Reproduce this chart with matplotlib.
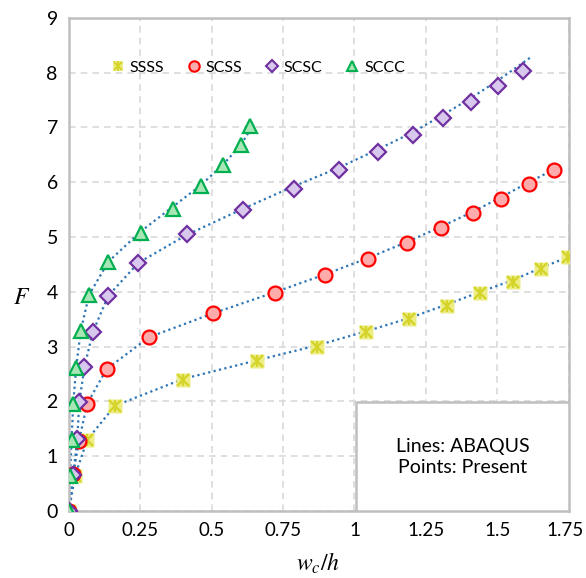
import matplotlib
matplotlib.use("Agg")
import matplotlib.pyplot as plt
from matplotlib.patches import Rectangle
from matplotlib.transforms import ScaledTranslation

plt.rcParams['font.family'] = ['Lato', 'DejaVu Sans']
plt.rcParams['mathtext.fontset'] = 'stix'

# ---- Data: points (Present) ----
ssss_x = [0, 0.021, 0.064, 0.161, 0.40, 0.658, 0.868, 1.041, 1.192, 1.324, 1.441, 1.554, 1.655, 1.747]
ssss_y = [0, 0.64, 1.30, 1.92, 2.39, 2.73, 3.00, 3.26, 3.50, 3.75, 3.98, 4.18, 4.42, 4.63]

scss_x = [0, 0.015, 0.035, 0.064, 0.132, 0.28, 0.506, 0.72, 0.898, 1.049, 1.184, 1.304, 1.414, 1.515, 1.61, 1.698]
scss_y = [0, 0.67, 1.28, 1.96, 2.59, 3.17, 3.61, 3.98, 4.30, 4.60, 4.89, 5.17, 5.44, 5.70, 5.97, 6.22]

scsc_x = [0, 0.015, 0.029, 0.036, 0.054, 0.083, 0.138, 0.243, 0.413, 0.611, 0.789, 0.947, 1.082, 1.204, 1.31, 1.409, 1.503, 1.589]
scsc_y = [0, 0.66, 1.31, 1.98, 2.62, 3.26, 3.93, 4.53, 5.06, 5.49, 5.87, 6.22, 6.55, 6.86, 7.18, 7.46, 7.75, 8.03]

sccc_x = [0, 0.004, 0.009, 0.015, 0.025, 0.041, 0.070, 0.138, 0.251, 0.363, 0.463, 0.541, 0.602, 0.635]
sccc_y = [0, 0.63, 1.30, 1.96, 2.61, 3.28, 3.94, 4.55, 5.08, 5.52, 5.93, 6.31, 6.68, 7.03]

# ---- Data: lines (ABAQUS) ----
ssss_lx = [0, 0.021, 0.064, 0.161, 0.40, 0.658, 0.868, 1.041, 1.192, 1.324, 1.441, 1.554, 1.655, 1.76]
ssss_ly = [0, 0.64, 1.30, 1.92, 2.41, 2.75, 3.02, 3.28, 3.52, 3.77, 4.00, 4.21, 4.44, 4.66]

scss_lx = [0, 0.015, 0.035, 0.064, 0.132, 0.28, 0.506, 0.72, 0.898, 1.049, 1.184, 1.304, 1.414, 1.515, 1.61, 1.71]
scss_ly = [0, 0.67, 1.28, 1.96, 2.59, 3.17, 3.61, 3.99, 4.32, 4.62, 4.91, 5.19, 5.46, 5.73, 6.00, 6.26]

scsc_lx = [0, 0.015, 0.029, 0.036, 0.054, 0.083, 0.138, 0.243, 0.413, 0.611, 0.789, 0.947, 1.082, 1.204, 1.31, 1.409, 1.503, 1.617]
scsc_ly = [0, 0.66, 1.31, 1.98, 2.62, 3.26, 3.93, 4.53, 5.04, 5.52, 5.93, 6.27, 6.60, 6.91, 7.23, 7.54, 7.86, 8.28]

sccc_lx = [0, 0.004, 0.009, 0.015, 0.025, 0.041, 0.070, 0.138, 0.251, 0.363, 0.463, 0.541, 0.602, 0.635]
sccc_ly = [0, 0.63, 1.30, 1.96, 2.61, 3.28, 3.94, 4.55, 5.10, 5.55, 5.95, 6.33, 6.68, 6.96]

xticks = [0, 0.25, 0.5, 0.75, 1, 1.25, 1.5, 1.75]
xticklabels = ["0", "0.25", "0.5", "0.75", "1", "1.25", "1.5", "1.75"]
yticks = list(range(0, 10))

fig = plt.figure(figsize=(5.86, 5.78), dpi=100)
ax = fig.add_axes([0.1177, 0.116, 0.8525, 0.853])

line_c = '#2E75B6'
for lx, ly in [(ssss_lx, ssss_ly), (scss_lx, scss_ly), (scsc_lx, scsc_ly), (sccc_lx, sccc_ly)]:
    ax.plot(lx, ly, linestyle=(0, (1, 1.5)), color=line_c, lw=1.6, zorder=2)

# SSSS markers: light yellow square + asterisk
ax.plot(ssss_x, ssss_y, 's', ms=10, mfc='#EDED85', mec='none', zorder=3)
ax.plot(ssss_x, ssss_y, 'x', ms=8, mec='#D4D42A', mew=1.7, zorder=4)
ax.plot(ssss_x, ssss_y, '|', ms=9, mec='#D4D42A', mew=1.7, zorder=4)
ax.plot(scss_x, scss_y, 'o', ms=10, mfc='#FFABAB', mec='#FF0000', mew=1.6, zorder=5)
ax.plot(scsc_x, scsc_y, 'D', ms=7.8, mfc='#D8C8EE', mec='#7030A0', mew=1.6, zorder=6)
ax.plot(sccc_x, sccc_y, '^', ms=10.5, mfc='#A8E6B6', mec='#00B050', mew=1.6, zorder=7)

# Legend proxies
h1 = ax.plot([], [], 's', ms=7, mfc='#EDED85', mec='#D4D42A', mew=0)[0]
h1b = ax.plot([], [], 'x', ms=6, mec='#D4D42A', mew=1.4)[0]
h1c = ax.plot([], [], '|', ms=7, mec='#D4D42A', mew=1.4)[0]
h2 = ax.plot([], [], 'o', ms=7.5, mfc='#FFABAB', mec='#FF0000', mew=1.5)[0]
h3 = ax.plot([], [], 'D', ms=5.8, mfc='#D8C8EE', mec='#7030A0', mew=1.5)[0]
h4 = ax.plot([], [], '^', ms=7.5, mfc='#A8E6B6', mec='#00B050', mew=1.5)[0]
leg = ax.legend([(h1, h1b, h1c), h2, h3, h4], ["SSSS", "SCSS", "SCSC", "SCCC"],
                ncol=4, frameon=False, loc='center', bbox_to_anchor=(0.378, 0.899),
                fontsize=11.5, handlelength=0.9, handletextpad=0.3, columnspacing=1.4,
                borderpad=0)

ax.set_xlim(0, 1.75)
ax.set_ylim(0, 9)
ax.set_xticks(xticks)
ax.set_xticklabels(xticklabels)
ax.set_yticks(yticks)
ax.tick_params(length=0, labelsize=14, pad=8)
ax.tick_params(axis='x', labelsize=13.5)
last = ax.get_xticklabels()[-1]
last.set_transform(last.get_transform() + ScaledTranslation(-3/100, 0, fig.dpi_scale_trans))
ax.grid(True, color='#D9D9D9', linestyle=(0, (4, 3)), lw=1.2, zorder=0)
ax.set_axisbelow(True)
for s in ax.spines.values():
    s.set_color('#BFBFBF')
    s.set_linewidth(1.8)

# Text box
box = Rectangle((1.006, 0), 0.744, 1.99, facecolor='white', edgecolor='#BFBFBF', lw=1.8, zorder=8)
ax.add_patch(box)
ax.text(1.378, 0.99, "Lines: ABAQUS\nPoints: Present", ha='center', va='center', fontsize=14,
        linespacing=1.3, zorder=9)

fig.text(22/586, 1-297/578, "$F$", fontsize=17, ha='center', va='center')
fig.text(318/586, 1-563/578, "$w_c/h$", fontsize=17, ha='center', va='center')

fig.savefig("out.png", dpi=100)
